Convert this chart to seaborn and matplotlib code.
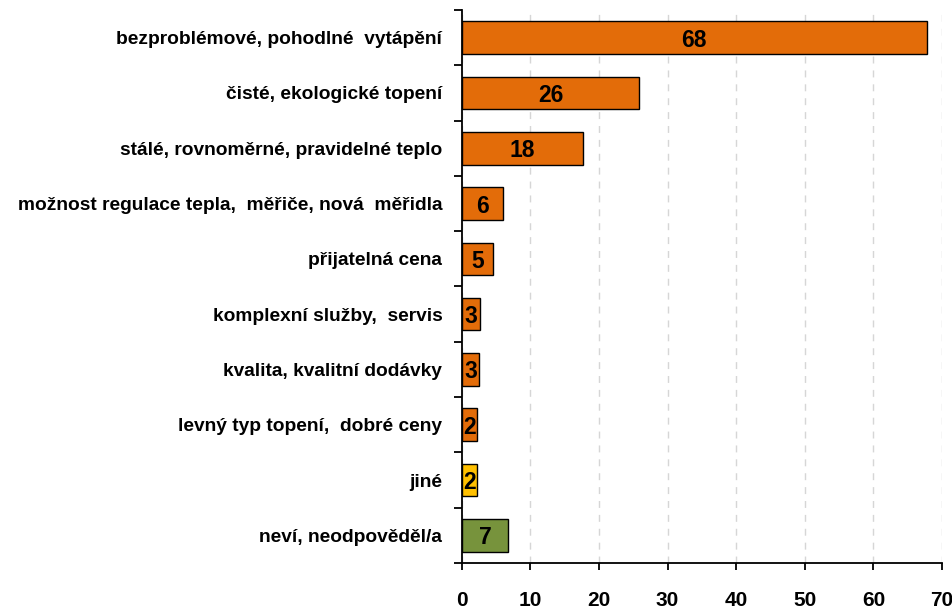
import pandas as pd
import seaborn as sns
import matplotlib.pyplot as plt
from matplotlib.ticker import FixedLocator, MultipleLocator

# categories (top to bottom) and values
categories = [
    "bezproblémové, pohodlné  vytápění",
    "čisté, ekologické topení",
    "stálé, rovnoměrné, pravidelné teplo",
    "možnost regulace tepla,  měřiče, nová  měřidla",
    "přijatelná cena",
    "komplexní služby,  servis",
    "kvalita, kvalitní dodávky",
    "levný typ topení,  dobré ceny",
    "jiné",
    "neví, neodpověděl/a",
]
values = [67.8, 25.9, 17.7, 6.0, 4.6, 2.7, 2.55, 2.2, 2.2, 6.8]
colors = ["#E36C09"] * 8 + ["#FFC000", "#77933C"]

df = pd.DataFrame({"label": categories, "value": values})

sns.set_style("white")
plt.rcParams["font.family"] = ["Liberation Sans", "DejaVu Sans"]

fig = plt.figure(figsize=(9.52, 6.08), dpi=100)
ax = fig.add_axes([0.485, 0.074, 0.5045, 0.9096])

sns.barplot(data=df, x="value", y="label", hue="label", palette=colors,
            legend=False, orient="h", width=0.59, edgecolor="black",
            linewidth=1.0, saturation=1, ax=ax)

for patch, v in zip(ax.patches, values):
    ax.text(patch.get_x() + patch.get_width() / 2,
            patch.get_y() + patch.get_height() / 2,
            f"{v:.0f}", ha="center", va="center_baseline",
            fontsize=16.5, fontweight="bold", color="black")

ax.set_xlim(0, 70)
ax.set_ylim(len(categories) - 0.5, -0.5)
ax.xaxis.set_major_locator(MultipleLocator(10))
ax.set_xlabel("")
ax.set_ylabel("")

ax.grid(axis="x", color="#D6D6D6", linestyle=(0, (5, 5)), linewidth=1)
ax.set_axisbelow(True)

for s in ["top", "right"]:
    ax.spines[s].set_visible(False)
for s in ["left", "bottom"]:
    ax.spines[s].set_color("black")
    ax.spines[s].set_linewidth(1.3)

# ticks at the category boundaries, as in the original
ax.yaxis.set_minor_locator(FixedLocator([i - 0.5 for i in range(len(categories) + 1)]))
ax.tick_params(axis="y", which="major", length=0, pad=14, labelsize=13.8, labelcolor="black")
ax.tick_params(axis="y", which="minor", length=6, width=1.3, color="black", direction="out", left=True)
ax.tick_params(axis="x", which="major", length=5, width=1.3, color="black", direction="out",
               bottom=True, pad=15, labelsize=15, labelcolor="black")
for lbl in ax.get_yticklabels() + ax.get_xticklabels():
    lbl.set_fontweight("bold")

fig.savefig("out.png", dpi=100)
